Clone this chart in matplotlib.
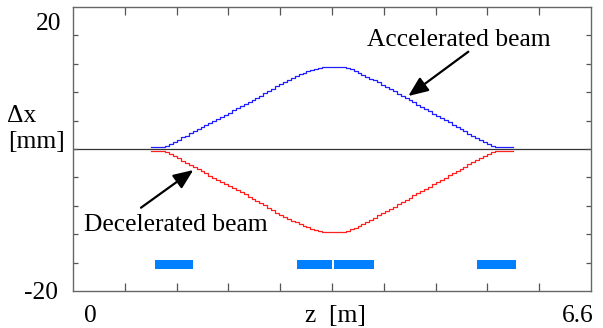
import numpy as np
import matplotlib
matplotlib.use("Agg")
import matplotlib.pyplot as plt

plt.rcParams["font.family"] = ["Liberation Serif", "DejaVu Serif"]

# sampling positions along the beam line [m]
z = np.round(np.arange(1.00, 5.601, 0.05), 2)

# accelerated beam offset [mm]
dx_acc = [
    0.24, 0.24, 0.24, 0.24, 0.42, 0.72, 1.01, 1.32, 1.62, 1.90,
    2.20, 2.49, 2.77, 3.07, 3.37, 3.66, 3.96, 4.25, 4.55, 4.85,
    5.14, 5.44, 5.73, 6.01, 6.31, 6.61, 6.90, 7.20, 7.52, 7.85,
    8.18, 8.52, 8.84, 9.15, 9.45, 9.73, 10.00, 10.25, 10.50, 10.73,
    10.94, 11.14, 11.30, 11.45, 11.55, 11.55, 11.55, 11.55, 11.55, 11.55,
    11.42, 11.20, 11.00, 10.75, 10.48, 10.20, 9.92, 9.65, 9.37, 9.06,
    8.75, 8.43, 8.12, 7.81, 7.49, 7.18, 6.87, 6.56, 6.24, 5.93,
    5.62, 5.30, 4.99, 4.68, 4.37, 4.05, 3.74, 3.43, 3.11, 2.80,
    2.49, 2.18, 1.86, 1.55, 1.25, 0.96, 0.70, 0.46, 0.24, 0.24,
    0.24, 0.24, 0.24,
]

# decelerated beam offset [mm]
dx_dec = [
    -0.28, -0.28, -0.28, -0.28, -0.45, -0.70, -1.00, -1.30, -1.62, -1.95,
    -2.25, -2.55, -2.84, -3.14, -3.44, -3.74, -4.04, -4.33, -4.63, -4.92,
    -5.22, -5.52, -5.81, -6.10, -6.40, -6.70, -7.00, -7.30, -7.62, -7.95,
    -8.30, -8.65, -8.98, -9.30, -9.58, -9.85, -10.10, -10.35, -10.58, -10.80,
    -11.02, -11.22, -11.40, -11.55, -11.70, -11.70, -11.70, -11.70, -11.70, -11.70,
    -11.55, -11.32, -11.08, -10.82, -10.55, -10.26, -9.96, -9.66, -9.36, -9.05,
    -8.74, -8.42, -8.11, -7.80, -7.48, -7.17, -6.86, -6.54, -6.23, -5.92,
    -5.60, -5.29, -4.98, -4.66, -4.35, -4.04, -3.72, -3.41, -3.10, -2.78,
    -2.47, -2.16, -1.85, -1.55, -1.26, -0.98, -0.72, -0.48, -0.28, -0.28,
    -0.28, -0.28, -0.28,
]

# magnet blocks along z [m]
mag_start = [1.04, 2.85, 3.33, 5.15]
mag_end = [1.53, 3.30, 3.84, 5.65]
mag_level = -16.3

W, H = 603, 328
FS = 18.4

fig = plt.figure(figsize=(W / 100, H / 100), dpi=100)
ax = fig.add_axes([73 / W, 1 - 291 / H, (591 - 73) / W, (291 - 7) / H])

ax.axhline(0, color="#333333", lw=0.9, zorder=1)
ax.plot(z, dx_acc, drawstyle="steps-mid", color="#2020ff", lw=0.9, zorder=3)
ax.plot(z, dx_dec, drawstyle="steps-mid", color="#ff2020", lw=0.9, zorder=3)

widths = [e - s for s, e in zip(mag_start, mag_end)]
ax.barh([mag_level] * len(mag_start), widths, left=mag_start, height=1.3,
        color="#0080ff", edgecolor="none", zorder=2)

ax.set_xlim(0, 6.6)
ax.set_ylim(-20, 20)
ax.set_xticks(np.arange(1, 10) * 0.66)
ax.set_yticks(np.arange(-16, 17, 4))
ax.set_xticklabels([])
ax.set_yticklabels([])
ax.tick_params(axis="x", direction="in", length=6, width=0.9, color="#555555",
               top=True, bottom=True)
ax.tick_params(axis="y", direction="in", length=3.5, width=0.9, color="#555555",
               left=True, right=True)
for sp in ax.spines.values():
    sp.set_color("#666666")
    sp.set_linewidth(1.0)

# annotations
ax.text(3.746, 14.55, "Accelerated beam", fontsize=FS, ha="left", va="baseline")
ax.text(0.140, -11.51, "Decelerated beam", fontsize=FS, ha="left", va="baseline")
arrow = dict(arrowstyle="-|>,head_length=0.6,head_width=0.25", color="black",
             lw=1.6, mutation_scale=20, shrinkA=0, shrinkB=0)
ax.annotate("", xy=(4.272, 7.46), xytext=(5.037, 13.70), arrowprops=arrow)
ax.annotate("", xy=(1.533, -2.96), xytext=(0.866, -8.27), arrowprops=arrow)

# axis labels placed like the original
def ftext(x, y, s, ha):
    fig.text(x / W, 1 - y / H, s, fontsize=FS, ha=ha, va="baseline")

ftext(61.7, 30, "20", "right")
ftext(58.3, 299.3, "-20", "right")
ftext(7.3, 121.7, "Δx", "left")
ftext(8.3, 148.3, "[mm]", "left")
ftext(90, 321.7, "0", "center")
ftext(335, 321.7, "z  [m]", "center")
ftext(593.3, 321.7, "6.6", "right")

fig.savefig("out.png", dpi=100)
